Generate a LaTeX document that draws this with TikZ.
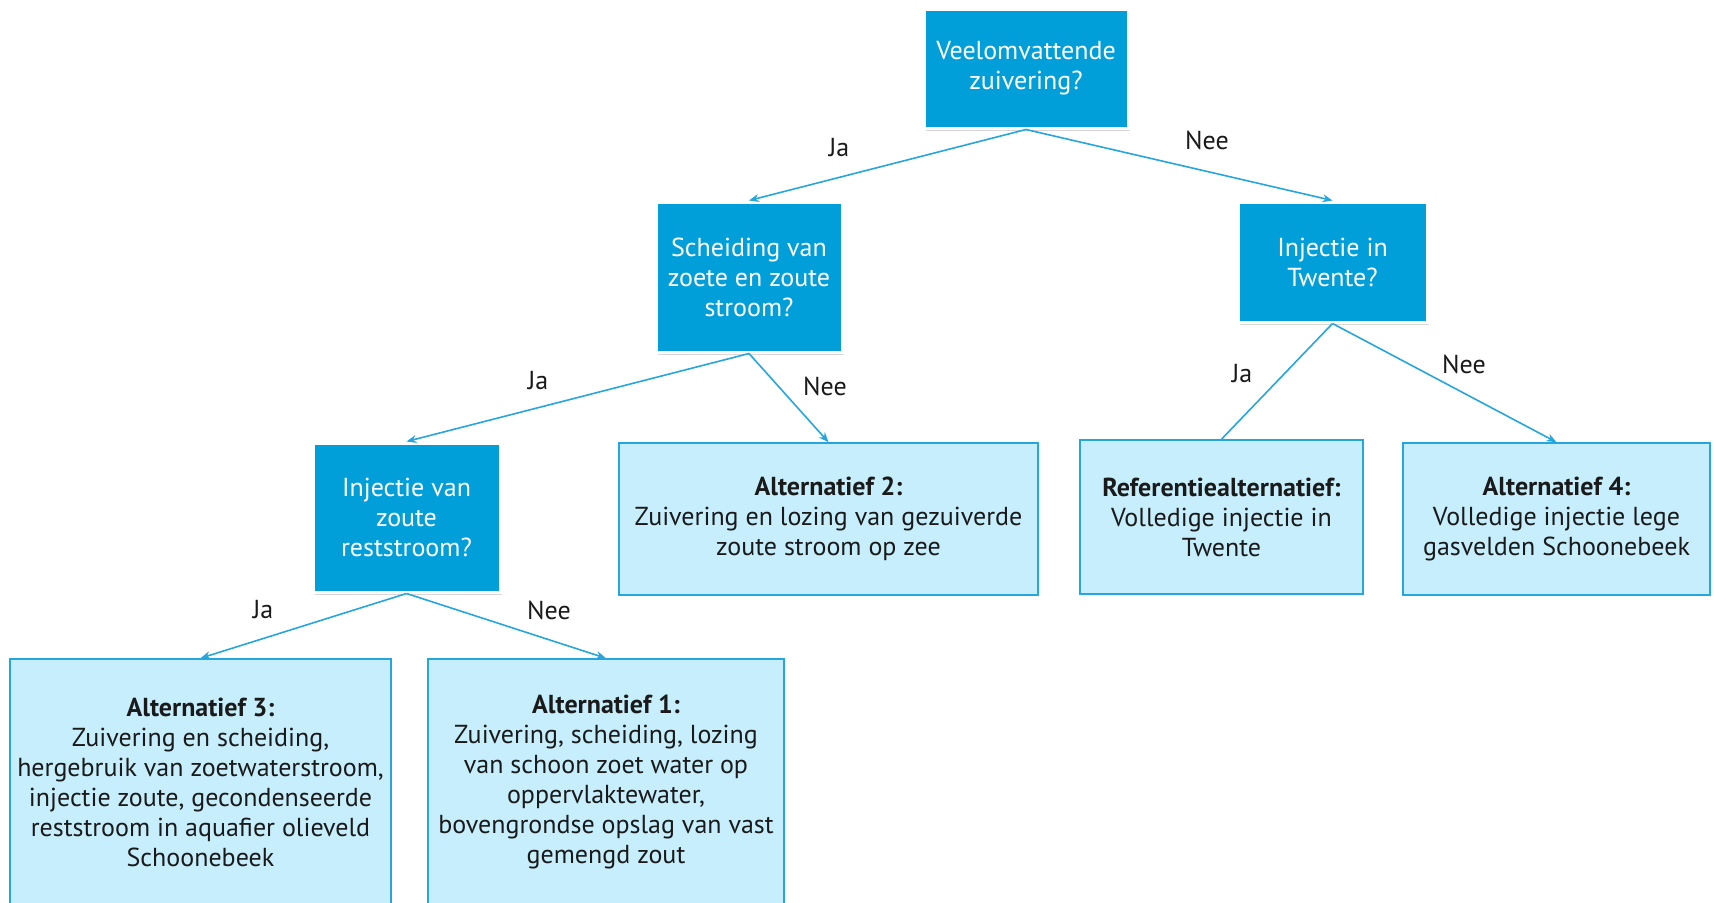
\documentclass[tikz,border=0pt]{standalone}
\usepackage{fontspec}
\setmainfont{PT Sans}
\usetikzlibrary{arrows.meta,shadows,positioning}
\definecolor{questionblue}{HTML}{009FDA}
\definecolor{answerblue}{HTML}{C6EEFC}
\definecolor{lineblue}{HTML}{27A6DE}
\definecolor{inkblack}{HTML}{1A1A1A}
\tikzstyle{question} = [rectangle,fill=questionblue,draw=white,line width=1.5pt,text=white,align=center,drop shadow={shadow xshift=1pt,shadow yshift=-1.5pt,opacity=0.3},font=\fontsize{13}{15}\selectfont]
\tikzstyle{answer} = [rectangle,fill=answerblue,draw=lineblue,line width=0.8pt,text=inkblack,align=center,font=\fontsize{13}{15}\selectfont]
\tikzstyle{choice} = [text=inkblack,font=\fontsize{13}{15}\selectfont]
\begin{document}
\begin{tikzpicture}[x=0.5pt,y=-0.5pt,>={Stealth[length=5pt,width=4pt]}]
	\clip (0,0) rectangle (1714,902);
	\fill[white] (0,0) rectangle (1714,902);

	%Questions
	\node[question,minimum width=102pt,minimum height=59.5pt] (veel) at (1026,68.5) {Veelomvattende\\zuivering?};
	\node[question,minimum width=93pt,minimum height=75pt] (scheiding) at (749,277) {Scheiding van\\zoete en zoute\\stroom?};
	\node[question,minimum width=94.5pt,minimum height=60pt] (twente) at (1332.5,262) {Injectie in\\Twente?};
	\node[question,minimum width=93.5pt,minimum height=74.5pt] (reststroom) at (406.5,517.5) {Injectie van\\zoute\\reststroom?};

	%Alternatives
	\node[answer,minimum width=209.5pt,minimum height=76pt] (alt2) at (828.5,519) {\textbf{Alternatief 2:}\\Zuivering en lozing van gezuiverde\\zoute stroom op zee};
	\node[answer,minimum width=141.5pt,minimum height=77pt] (ref) at (1221.5,517) {\textbf{Referentiealternatief:}\\Volledige injectie in\\Twente};
	\node[answer,minimum width=153.5pt,minimum height=76pt] (alt4) at (1556.5,519) {\textbf{Alternatief 4:}\\Volledige injectie lege\\gasvelden Schoonebeek};
	\node[answer,minimum width=190.5pt,minimum height=123pt] (alt3) at (200.5,782) {\textbf{Alternatief 3:}\\Zuivering en scheiding,\\hergebruik van zoetwaterstroom,\\injectie zoute, gecondenseerde\\reststroom in aquafier olieveld\\Schoonebeek};
	\node[answer,minimum width=178pt,minimum height=123pt] (alt1) at (606,782) {\textbf{Alternatief 1:}\\Zuivering, scheiding, lozing\\van schoon zoet water op\\oppervlaktewater,\\bovengrondse opslag van vast\\gemengd zout};

	%Connectors
	\path[->,lineblue,line width=0.8pt] (veel.south) edge (scheiding.north)
		(veel.south) edge (twente.north)
		(scheiding.south) edge (reststroom.north)
		(scheiding.south) edge (alt2.north)
		(reststroom.south) edge (alt3.north)
		(reststroom.south) edge (alt1.north)
		(twente.south) edge (alt4.north);
	\path[lineblue,line width=0.8pt] (twente.south) edge (ref.north);

	%Labels
	\node[choice] (ja1) at (839,148) {Ja};
	\node[choice] (nee1) at (1207,140) {Nee};
	\node[choice] (ja2) at (538,381) {Ja};
	\node[choice] (nee2) at (825,386) {Nee};
	\node[choice] (ja3) at (263,610) {Ja};
	\node[choice] (nee3) at (549,610) {Nee};
	\node[choice] (ja4) at (1242,374) {Ja};
	\node[choice] (nee4) at (1464,364) {Nee};
\end{tikzpicture}
\end{document}
